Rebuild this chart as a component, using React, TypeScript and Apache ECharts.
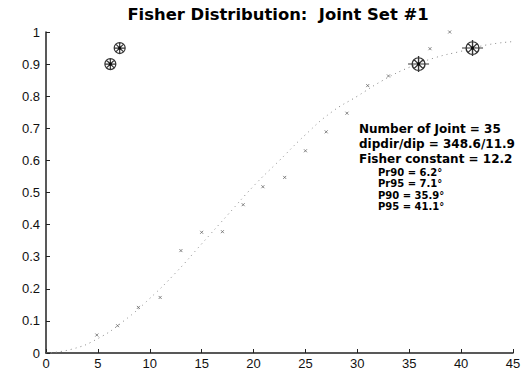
import React, { useEffect, useRef } from "react";
import * as echarts from "echarts";

const titleText = "Fisher Distribution:  Joint Set #1";

// fitted Fisher curve
const curveX = [0, 2.5, 5, 7.5, 10, 12.5, 15, 17.5, 20, 22.5, 25, 27.5, 30, 32.5, 35, 37.5, 40, 42.5, 45];
const curveY = [0, 0.012, 0.045, 0.1, 0.17, 0.25, 0.34, 0.43, 0.52, 0.6, 0.68, 0.75, 0.8, 0.85, 0.89, 0.92, 0.94, 0.96, 0.97];

// observed points
const obsX = [4.9, 6.9, 8.9, 11.0, 13.0, 15.0, 17.0, 19.0, 20.9, 23.0, 25.0, 27.0, 29.0, 31.0, 33.0, 37.0, 38.9];
const obsY = [0.056, 0.085, 0.142, 0.173, 0.319, 0.376, 0.378, 0.462, 0.518, 0.547, 0.63, 0.689, 0.747, 0.833, 0.863, 0.948, 1.0];

// confidence markers
const confX = [6.2, 7.1, 35.9, 41.1];
const confY = [0.9, 0.95, 0.9, 0.95];

const statLines = ["Number of Joint = 35", "dipdir/dip = 348.6/11.9", "Fisher constant = 12.2"];
const subLines = ["Pr90 = 6.2°", "Pr95 = 7.1°", "P90 = 35.9°", "P95 = 41.1°"];

const FONT = "'Liberation Sans', Arial, sans-serif";
const BOLD_FONT = "'DejaVu Sans', sans-serif";

const smallMarker =
  "path://M-10,0 A10,10 0 1,0 10,0 A10,10 0 1,0 -10,0 Z M-10,0 L10,0 M0,-10 L0,10 M-7,-7 L7,7 M-7,7 L7,-7";
const bigMarker =
  "path://M-8,0 A8,8 0 1,0 8,0 A8,8 0 1,0 -8,0 Z M-13,0 L13,0 M0,-10 L0,10 M-5.6,-5.6 L5.6,5.6 M-5.6,5.6 L5.6,-5.6";
const xMarker = "path://M0,0 L4,4 M0,4 L4,0";

export default function App() {
  const ref = useRef<HTMLDivElement>(null);
  useEffect(() => {
    if (!ref.current) return;
    const chart = echarts.init(ref.current, undefined, { renderer: "svg" });
    const graphics: any[] = [];
    const lineYs = [128.5, 143.5, 158.5];
    statLines.forEach((t, i) => {
      graphics.push({
        type: "text",
        x: 359,
        y: lineYs[i],
        style: { text: t, font: `bold 12px ${BOLD_FONT}`, fill: "#000", verticalAlign: "middle" },
      });
    });
    const subYs = [172, 183.5, 195, 206.5];
    subLines.forEach((t, i) => {
      graphics.push({
        type: "text",
        x: 378,
        y: subYs[i],
        style: { text: t, font: `bold 10px ${BOLD_FONT}`, fill: "#000", verticalAlign: "middle" },
      });
    });
    graphics.push({
      type: "text",
      x: 278,
      y: 14.5,
      style: {
        text: titleText,
        font: `bold 16.4px ${BOLD_FONT}`,
        fill: "#000",
        align: "center",
        verticalAlign: "middle",
      },
    });
    chart.setOption({
      animation: false,
      backgroundColor: "#fff",
      grid: { left: 46, right: 14, top: 32, bottom: 25 },
      xAxis: {
        type: "value",
        min: 0,
        max: 45,
        interval: 5,
        splitLine: { show: false },
        axisLine: { show: true, onZero: false, lineStyle: { color: "#222", width: 1.5 } },
        axisTick: { show: true, inside: true, length: 4, lineStyle: { color: "#222" } },
        axisLabel: { margin: 4, color: "#111", fontFamily: FONT, fontSize: 13 },
      },
      yAxis: {
        type: "value",
        min: 0,
        max: 1,
        interval: 0.1,
        splitLine: { show: false },
        axisLine: { show: true, onZero: false, lineStyle: { color: "#222", width: 1.5 } },
        axisTick: { show: true, inside: true, length: 4, lineStyle: { color: "#222" } },
        axisLabel: { margin: 6, color: "#111", fontFamily: FONT, fontSize: 13 },
      },
      graphic: graphics,
      series: [
        {
          type: "line",
          data: curveX.map((x, i) => [x, curveY[i]]),
          smooth: true,
          showSymbol: false,
          lineStyle: { color: "#888", width: 1, type: [1, 4] },
          z: 1,
        },
        {
          type: "scatter",
          data: obsX.map((x, i) => [x, obsY[i]]),
          symbol: xMarker,
          symbolSize: 3,
          itemStyle: { color: "none", borderColor: "#666", borderWidth: 1 },
          z: 2,
        },
        {
          type: "scatter",
          data: confX.map((x, i) => ({
            value: [x, confY[i]],
            symbol: i < 2 ? smallMarker : bigMarker,
            symbolSize: i < 2 ? [11, 11] : [21, 16],
          })),
          itemStyle: { color: "none", borderColor: "#000", borderWidth: 1.2 },
          z: 3,
        },
        {
          type: "scatter",
          data: confX.map((x, i) => [x, confY[i]]),
          symbol: "circle",
          symbolSize: 3,
          itemStyle: { color: "#000" },
          z: 4,
        },
      ],
    });
    return () => chart.dispose();
  }, []);
  return (
    <div
      ref={ref}
      style={{ position: "absolute", left: 0, top: 0, width: 527, height: 378, background: "#fff" }}
    />
  );
}
